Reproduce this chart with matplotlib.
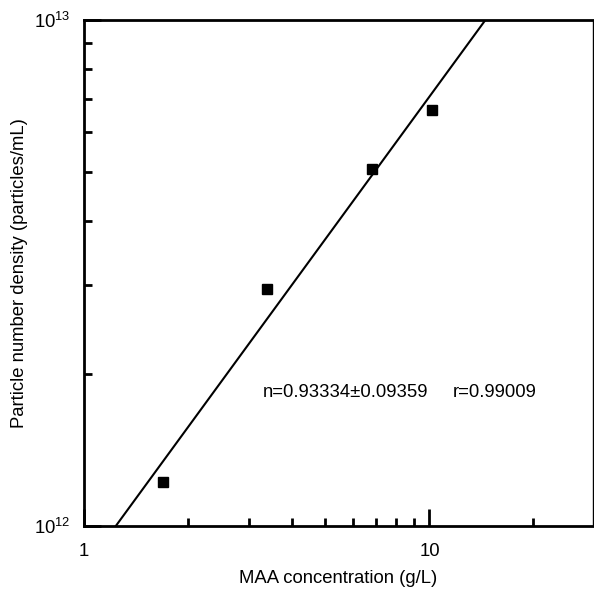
import numpy as np
import matplotlib.pyplot as plt

plt.rcParams['font.family'] = ['Liberation Sans', 'DejaVu Sans']
plt.rcParams['mathtext.fontset'] = 'custom'
plt.rcParams['mathtext.rm'] = 'Liberation Sans'

# MAA concentration (g/L) and particle number density (particles/mL)
conc = [1.69, 3.38, 6.80, 10.18]
density = [1.223e12, 2.94e12, 5.07e12, 6.66e12]
fit_text = 'n=0.93334\u00b10.09359'
r_text = 'r=0.99009'

fs = 13.3
fig = plt.figure(figsize=(5.94, 5.95), dpi=100)
ax = fig.add_axes([0.1414, 0.116, 0.8566, 0.850])
ax.set_xscale('log')
ax.set_yscale('log')

# straight line fit in log-log space
n, b = np.polyfit(np.log10(conc), np.log10(density), 1)
xf = np.logspace(0, np.log10(30), 200)
ax.plot(xf, 10**b * xf**n, color='black', lw=1.5)
ax.plot(conc, density, 's', color='black', ms=6.5)

ax.set_xlim(1, 29.7)
ax.set_ylim(1e12, 1e13)

ax.text(3.29, 1.84e12, fit_text, fontsize=fs, va='center')
ax.text(11.7, 1.84e12, r_text, fontsize=fs, va='center')

ax.set_xlabel('MAA concentration (g/L)', fontsize=fs, va='center')
ax.set_ylabel('Particle number density (particles/mL)', fontsize=fs, va='center')
ax.xaxis.set_label_coords(0.5, -0.103)
ax.yaxis.set_label_coords(-0.126, 0.5)

ax.set_xticks([1, 10])
ax.set_xticklabels(['1', '10'])
ax.set_xticks([2, 3, 4, 5, 6, 7, 8, 9, 20], minor=True)
ax.xaxis.set_minor_formatter(plt.NullFormatter())
ax.set_yticks([1e12, 1e13])
ax.set_yticks([k * 1e12 for k in range(2, 10)], minor=True)
ax.yaxis.set_minor_formatter(plt.NullFormatter())
ax.tick_params(which='both', direction='in', top=False, right=False,
               labelsize=fs, width=2)
ax.tick_params(which='major', length=12)
ax.tick_params(axis='x', which='major', pad=12)
ax.tick_params(axis='y', which='major', pad=10)
ax.tick_params(which='minor', length=6)

for s in ['left', 'bottom', 'top']:
    ax.spines[s].set_linewidth(2)
ax.spines['right'].set_linewidth(1)

fig.savefig('out.png', dpi=100)
